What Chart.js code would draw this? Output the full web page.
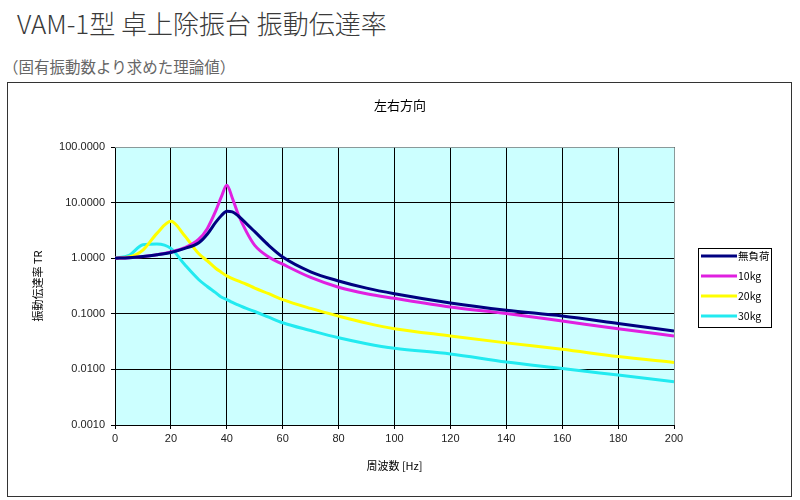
<!DOCTYPE html>
<html><head><meta charset="utf-8">
<script src="https://cdn.jsdelivr.net/npm/chart.js@4/dist/chart.umd.min.js"></script>
<style>
html,body{margin:0;padding:0;background:#fff;width:800px;height:500px;overflow:hidden;}
#t1{position:absolute;left:17px;top:4px;font-family:"Noto Sans CJK JP";font-weight:300;font-size:26px;color:#3a3a3a;white-space:nowrap;}
#t2{position:absolute;left:3px;top:55px;font-family:"Noto Sans CJK JP";font-weight:400;font-size:15.5px;color:#666;white-space:nowrap;}
#box{position:absolute;left:7px;top:82px;width:783px;height:413px;border:1px solid #333;}
canvas{display:block;}
</style></head><body>
<div id="t1">VAM-1型 卓上除振台 振動伝達率</div>
<div id="t2">（固有振動数より求めた理論値）</div>
<div id="box"><canvas id="c" width="783" height="413"></canvas></div>
<script>
const chartTitle = '左右方向';
const xTitle = '周波数 [Hz]';
const yTitle = '振動伝達率 TR';
const seriesNames = ['無負荷', '10kg', '20kg', '30kg'];
const seriesColors = ['#000080', '#e020e0', '#ffff00', '#22eaf0'];
const freqs = [0,5,10,15,20,25,30,33,36,38,40,42,44,47,50,55,60,70,80,90,100,120,140,160,180,200];
const noLoad = [1.0,1.02,1.07,1.15,1.27,1.5,1.9,2.7,4.4,5.8,7.0,6.8,5.8,4.2,3.0,1.7,1.05,0.57,0.39,0.29,0.23,0.157,0.116,0.091,0.067,0.049];
const load10 = [1.0,1.02,1.07,1.15,1.3,1.55,2.2,3.4,7.0,12.5,20.5,12.0,6.3,3.0,1.7,1.05,0.78,0.45,0.30,0.23,0.19,0.133,0.101,0.074,0.054,0.040];
const load20 = [1.0,1.05,1.4,2.8,4.6,2.5,1.2,0.9,0.66,0.56,0.48,0.43,0.39,0.34,0.29,0.23,0.18,0.125,0.091,0.068,0.054,0.040,0.030,0.023,0.017,0.0133];
const load30 = [1.0,1.12,1.75,1.8,1.5,0.76,0.41,0.31,0.24,0.20,0.18,0.16,0.145,0.125,0.11,0.087,0.069,0.05,0.037,0.029,0.024,0.019,0.0136,0.0104,0.0079,0.006];
const yTicks = [0.001, 0.01, 0.1, 1, 10, 100];
const xMin = 0, xMax = 200, xStep = 20;

const seriesValues = [noLoad, load10, load20, load30];
const datasets = seriesValues.map((vals, i) => ({
  label: seriesNames[i],
  data: freqs.map((f, j) => ({x: f, y: vals[j]})),
  borderColor: seriesColors[i],
  backgroundColor: seriesColors[i],
  borderWidth: 3,
  pointRadius: 0,
  cubicInterpolationMode: 'monotone',
  fill: false
}));

const bgPlugin = {
  id: 'bg',
  beforeDraw(chart) {
    const {ctx, chartArea: a} = chart;
    ctx.save();
    ctx.fillStyle = '#ccffff';
    ctx.fillRect(a.left, a.top, a.right - a.left, a.bottom - a.top);
    ctx.restore();
  },
  afterDatasetsDraw(chart) {
    const {ctx, chartArea: a} = chart;
    ctx.save();
    ctx.strokeStyle = '#8a9a9a';
    ctx.lineWidth = 1;
    ctx.beginPath();
    ctx.moveTo(a.left, a.top + 0.5); ctx.lineTo(a.right + 0.5, a.top + 0.5);
    ctx.lineTo(a.right + 0.5, a.bottom);
    ctx.stroke();
    ctx.restore();
  },
  afterDraw(chart) {
    const ctx = chart.ctx;
    ctx.save();
    ctx.fillStyle = '#000';
    ctx.font = '13px "Noto Sans CJK JP"';
    ctx.textAlign = 'center';
    ctx.textBaseline = 'middle';
    ctx.fillText(chartTitle, 392, 22);
    // legend
    const x = 690, y = 165, w = 73, h = 79;
    ctx.fillStyle = '#fff';
    ctx.fillRect(x, y, w, h);
    ctx.strokeStyle = '#000';
    ctx.lineWidth = 1;
    ctx.strokeRect(x + 0.5, y + 0.5, w, h);
    ctx.font = '10.5px "Noto Sans CJK JP"';
    ctx.textAlign = 'left';
    chart.data.datasets.forEach((ds, i) => {
      const cy = y + 8 + i * 20;
      ctx.strokeStyle = ds.borderColor;
      ctx.lineWidth = 3;
      ctx.beginPath();
      ctx.moveTo(x + 3, cy); ctx.lineTo(x + 39, cy);
      ctx.stroke();
      ctx.fillStyle = '#000';
      ctx.fillText(ds.label, x + 40, cy);
    });
    ctx.restore();
  }
};

new Chart(document.getElementById('c'), {
  type: 'line',
  data: {datasets},
  options: {
    responsive: false,
    animation: false,
    layout: {padding: {left: 0, top: 64, right: 117, bottom: 0}},
    plugins: {legend: {display: false}, title: {display: false}, tooltip: {enabled: false}},
    scales: {
      x: {
        type: 'linear', min: xMin, max: xMax,
        afterFit(s) { s.height = 71; },
        ticks: {stepSize: xStep, color: '#222', font: {family: '"Liberation Sans"', size: 11}, padding: 3, maxRotation: 0},
        grid: {color: '#000', lineWidth: 1, tickLength: 4, drawOnChartArea: true},
        border: {color: '#000', width: 1},
        title: {display: true, text: xTitle, color: '#000', font: {family: '"Noto Sans CJK JP"', size: 11}, padding: {top: 0, bottom: 23.4}}
      },
      y: {
        type: 'logarithmic', min: yTicks[0], max: yTicks[yTicks.length - 1],
        afterFit(s) { s.width = 107; },
        afterBuildTicks(s) { s.ticks = yTicks.map(v => ({value: v})); },
        ticks: {callback: v => Number(v).toFixed(4), color: '#222', font: {family: '"Liberation Sans"', size: 11}, padding: 6},
        grid: {color: '#000', lineWidth: 1, tickLength: 4},
        border: {color: '#000', width: 1},
        title: {display: true, text: yTitle, color: '#000', font: {family: '"Noto Sans CJK JP"', size: 11}, padding: {top: 23.4, bottom: 0}}
      }
    }
  },
  plugins: [bgPlugin]
});
</script>
</body></html>
